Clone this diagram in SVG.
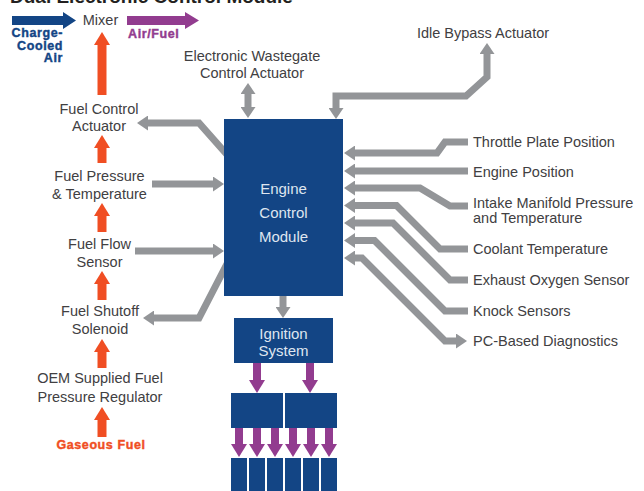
<svg xmlns="http://www.w3.org/2000/svg" width="644" height="491" viewBox="0 0 644 491">
<style>
.t{font-family:"Liberation Sans",Arial,sans-serif;font-size:14.5px;fill:#414042}
.m{text-anchor:middle}
.w{font-family:"Liberation Sans",Arial,sans-serif;font-size:15px;fill:#dfe6f0;text-anchor:middle}
.b{font-family:"Liberation Sans",Arial,sans-serif;font-size:12.5px;font-weight:bold;letter-spacing:0.6px;stroke-width:0.4px}
.box{fill:#134585}
.g{fill:none;stroke:#939598;stroke-width:7;marker-end:url(#hg)}
.gg{fill:none;stroke:#939598;stroke-width:7;marker-start:url(#hg);marker-end:url(#hg)}
.r{fill:none;stroke:#f04e23;stroke-width:9;marker-end:url(#hr)}
.p{fill:none;stroke:#923c8f;stroke-width:8;marker-end:url(#hp)}
</style>
<defs>
<marker id="hg" viewBox="0 0 11 15" markerWidth="11" markerHeight="15" refX="0.5" refY="7.5" orient="auto-start-reverse" markerUnits="userSpaceOnUse"><path d="M0,0 L11,7.5 L0,15 z" fill="#939598"/></marker>
<marker id="hr" viewBox="0 0 13 16" markerWidth="13" markerHeight="16" refX="0.5" refY="8" orient="auto" markerUnits="userSpaceOnUse"><path d="M0,0 L13,8 L0,16 z" fill="#f04e23"/></marker>
<marker id="hp" viewBox="0 0 13 16" markerWidth="13" markerHeight="16" refX="0.5" refY="8" orient="auto" markerUnits="userSpaceOnUse"><path d="M0,0 L13,8 L0,16 z" fill="#923c8f"/></marker>
</defs>
<rect width="644" height="491" fill="#ffffff"/>
<text x="10" y="3" style="font-family:'Liberation Sans',Arial,sans-serif;font-size:19px;font-weight:bold;fill:#231f20">Dual Electronic Control Module</text>
<g id="connectors">
<polygon points="12,16 63,16 63,12 76,20.5 63,29 63,25 12,25" fill="#134585"/>
<polygon points="127,16 185,16 185,12 199,20.5 185,29 185,25 127,25" fill="#923c8f"/>
<path class="r" d="M102,95 L102,44.5"/>
<path class="r" d="M102,163 L102,147.5"/>
<path class="r" d="M102,232 L102,215.5"/>
<path class="r" d="M102,300 L102,283.5"/>
<path class="r" d="M102,368 L102,351.5"/>
<path class="r" d="M102,437 L102,419.5"/>
<path class="g" d="M230,158 L199,123 L147.5,123"/>
<path class="g" d="M152,184 L213.5,184"/>
<path class="g" d="M135,251 L213.5,251"/>
<path class="g" d="M230,258 L199,318 L153.5,318"/>
<path class="gg" d="M248,93.5 L248,107.5"/>
<path class="gg" d="M487,53.5 L487,77 L466,96 L336,96 L336,108.5"/>
<path class="g" d="M283,294 L283,307.5"/>
<path class="g" d="M468,142 L445,142 L437,153 L354.5,153"/>
<path class="g" d="M468,171 L354.5,171"/>
<path class="g" d="M468,206 L450,206 L420,188 L354.5,188"/>
<path class="g" d="M468,249 L440,249 L396.5,205.5 L354.5,205.5"/>
<path class="g" d="M468,280 L450,280 L393,223 L354.5,223"/>
<path class="g" d="M468,311 L445,311 L374.5,240.5 L354.5,240.5"/>
<path class="gg" d="M354.5,258 L362,258 L445,341 L456.5,341"/>
<path class="p" d="M257,363 L257,380.5"/>
<path class="p" d="M310,363 L310,380.5"/>
<path class="p" d="M239,428 L239,444.5"/>
<path class="p" d="M257,428 L257,444.5"/>
<path class="p" d="M275,428 L275,444.5"/>
<path class="p" d="M293,428 L293,444.5"/>
<path class="p" d="M311,428 L311,444.5"/>
<path class="p" d="M329,428 L329,444.5"/>
</g>
<g id="charge-air"><text class="b" text-anchor="end" fill="#134585" stroke="#134585"><tspan x="63" y="37">Charge-</tspan><tspan x="63" y="49.5">Cooled</tspan><tspan x="63" y="61.5">Air</tspan></text></g>
<g id="air-fuel"><text class="b" x="128" y="38" fill="#923c8f" stroke="#923c8f">Air/Fuel</text></g>
<g id="mixer"><text class="t m" x="100.5" y="25">Mixer</text></g>
<g id="fuel-control"><text class="t m"><tspan x="99" y="114">Fuel Control</tspan><tspan x="99" y="131">Actuator</tspan></text></g>
<g id="fuel-pressure"><text class="t m"><tspan x="99.5" y="181">Fuel Pressure</tspan><tspan x="99.5" y="199">&amp; Temperature</tspan></text></g>
<g id="fuel-flow"><text class="t m"><tspan x="99.5" y="249">Fuel Flow</tspan><tspan x="99.5" y="267">Sensor</tspan></text></g>
<g id="fuel-shutoff"><text class="t m"><tspan x="100" y="316">Fuel Shutoff</tspan><tspan x="100" y="334">Solenoid</tspan></text></g>
<g id="oem-regulator"><text class="t m"><tspan x="100" y="383">OEM Supplied Fuel</tspan><tspan x="100" y="402">Pressure Regulator</tspan></text></g>
<g id="gaseous-fuel"><text class="b" x="101" y="449" text-anchor="middle" fill="#f04e23" stroke="#f04e23">Gaseous Fuel</text></g>
<g id="wastegate"><text class="t m"><tspan x="252" y="61">Electronic Wastegate</tspan><tspan x="252" y="78">Control Actuator</tspan></text></g>
<g id="idle-bypass"><text class="t m" x="483" y="38">Idle Bypass Actuator</text></g>
<g id="ecm"><rect class="box" x="224" y="119" width="119" height="177"/><text class="w"><tspan x="283.5" y="194">Engine</tspan><tspan x="283.5" y="218">Control</tspan><tspan x="283.5" y="242">Module</tspan></text></g>
<g id="ignition"><rect class="box" x="234" y="318" width="99" height="45"/><text class="w"><tspan x="283.5" y="339">Ignition</tspan><tspan x="283.5" y="356">System</tspan></text></g>
<g id="coil-1"><rect class="box" x="231" y="393" width="52" height="35"/></g>
<g id="coil-2"><rect class="box" x="285" y="393" width="52" height="35"/></g>
<g id="plug-1"><rect class="box" x="231" y="458" width="16" height="34"/></g>
<g id="plug-2"><rect class="box" x="249" y="458" width="16" height="34"/></g>
<g id="plug-3"><rect class="box" x="267" y="458" width="16" height="34"/></g>
<g id="plug-4"><rect class="box" x="285" y="458" width="16" height="34"/></g>
<g id="plug-5"><rect class="box" x="303" y="458" width="16" height="34"/></g>
<g id="plug-6"><rect class="box" x="321" y="458" width="16" height="34"/></g>
<g id="throttle"><text class="t" x="473" y="147">Throttle Plate Position</text></g>
<g id="engine-position"><text class="t" x="473" y="177">Engine Position</text></g>
<g id="intake"><text class="t"><tspan x="473" y="208">Intake Manifold Pressure</tspan><tspan x="473" y="223">and Temperature</tspan></text></g>
<g id="coolant"><text class="t" x="473" y="254">Coolant Temperature</text></g>
<g id="exhaust"><text class="t" x="473" y="285">Exhaust Oxygen Sensor</text></g>
<g id="knock"><text class="t" x="473" y="316">Knock Sensors</text></g>
<g id="pc-diagnostics"><text class="t" x="473" y="346">PC-Based Diagnostics</text></g>
</svg>
